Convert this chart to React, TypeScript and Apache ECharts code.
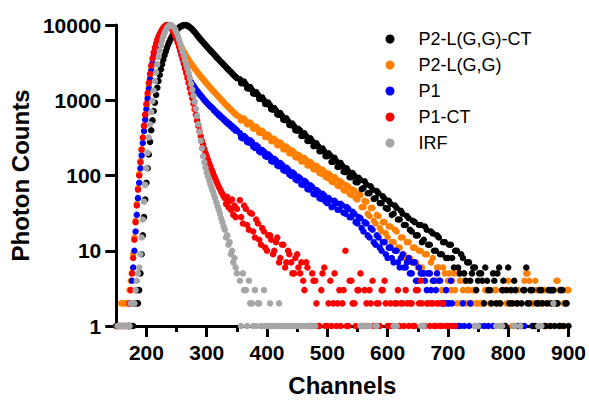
import React, { useEffect, useRef } from "react";
import * as echarts from "echarts";

// Channel grid (x values): fine steps around the peak, coarser in the tail
const CHANNELS = [
  150, 152, 154, 156, 158, 160, 162, 164, 166, 168,
  170, 172, 174, 176, 178, 180, 182, 184, 186, 188,
  190, 192, 194, 196, 198, 200, 202, 204, 206, 208,
  210, 212, 214, 216, 218, 220, 222, 224, 226, 228,
  230, 232, 234, 236, 238, 240, 242, 244, 246, 248,
  250, 252, 254, 256, 258, 260, 262, 264, 266, 268,
  270, 272, 274, 276, 278, 280, 282, 284, 286, 288,
  290, 292, 294, 296, 298, 300, 302, 304, 306, 308,
  310, 312, 314, 316, 318, 320, 322, 324, 326, 328,
  330, 332, 334, 336, 338, 340, 342, 344, 346, 348,
  350,
  355, 360, 365, 370, 375, 380, 385, 390, 395, 400,
  405, 410, 415, 420, 425, 430, 435, 440, 445, 450,
  455, 460, 465, 470, 475, 480, 485, 490, 495, 500,
  505, 510, 515, 520, 525, 530, 535, 540, 545, 550,
  555, 560, 565, 570, 575, 580, 585, 590, 595, 600,
  605, 610, 615, 620, 625, 630, 635, 640, 645, 650,
  655, 660, 665, 670, 675, 680, 685, 690, 695, 700,
  705, 710, 715, 720, 725, 730, 735, 740, 745, 750,
  755, 760, 765, 770, 775, 780, 785, 790, 795, 800,
  805, 810, 815, 820, 825, 830, 835, 840, 845, 850,
  855, 860, 865, 870, 875, 880, 885, 890, 895, 900,
];

// In-between tail channels (read separately, noisy tails)
const CHANNELS_ALT = [
  357, 362, 367, 372, 377, 382, 387, 392, 397, 402,
  407, 412, 417, 422, 427, 432, 437, 442, 447, 452,
  457, 462, 467, 472, 477, 482, 487, 492, 497, 502,
  507, 512, 517, 522, 527, 532, 537, 542, 547, 552,
  557, 562, 567, 572, 577, 582, 587, 592, 597, 602,
  607, 612, 617, 622, 627, 632, 637, 642, 647, 652,
  657, 662, 667, 672, 677, 682, 687, 692, 697, 702,
  707, 712, 717, 722, 727, 732, 737, 742, 747, 752,
  757, 762, 767, 772, 777, 782, 787, 792, 797, 802,
  807, 812, 817, 822, 827, 832, 837, 842, 847, 852,
  857, 862, 867, 872, 877, 882, 887, 892, 897,
];

// Photon counts per channel (0 = no count, not drawn on the log axis)
const P2_LGG_CT = [
  1, 0, 1, 0, 0, 1, 0, 0, 1, 0,
  1, 1, 1, 2, 1, 2, 2, 3, 2, 3,
  5, 9, 16, 28, 48, 80, 125, 190, 280, 400,
  540, 720, 930, 1180, 1470, 1800, 2170, 2580, 3020, 3480,
  3960, 4460, 4970, 5490, 6000, 6500, 6990, 7450, 7880, 8280,
  8640, 8960, 9240, 9480, 9680, 9840, 9950, 10000, 9950, 9800,
  9600, 9350, 9050, 8750, 8400, 8050, 7700, 7350, 7000, 6700,
  6400, 6150, 5900, 5650, 5420, 5200, 4990, 4790, 4600, 4420,
  4250, 4080, 3920, 3770, 3620, 3480, 3350, 3220, 3100, 2980,
  2870, 2760, 2650, 2550, 2460, 2370, 2280, 2200, 2120, 2040,
  1970,
  1900, 1690, 1620, 1430, 1380, 1220, 1180, 1040, 1000, 885,
  855, 750, 730, 640, 620, 545, 530, 465, 450, 395,
  395, 335, 335, 288, 287, 247, 245, 211, 210, 181,
  184, 153, 156, 131, 134, 111, 114, 95, 99, 81,
  87, 68, 76, 58, 65, 50, 58, 43, 49, 36,
  42, 31, 37, 26, 31, 22, 27, 18, 24, 16,
  22, 14, 19, 12, 17, 10, 15, 9, 13, 8,
  12, 6, 10, 5, 8, 4, 7, 5, 6, 4,
  5, 2, 4, 3, 5, 2, 6, 3, 1, 6,
  3, 4, 2, 1, 3, 6, 2, 3, 1, 2,
  3, 1, 2, 1, 3, 2, 1, 3, 2, 1,
];
const P2_LGG_CT_ALT = [
  1690, 1770, 1450, 1500, 1230, 1280, 1045, 1090, 895, 930,
  760, 790, 650, 675, 550, 575, 470, 490, 400, 417,
  335, 364, 287, 312, 246, 267, 211, 229, 181, 197,
  152, 172, 130, 147, 112, 125, 95, 108, 82, 93,
  66, 84, 58, 72, 49, 62, 43, 53, 37, 46,
  30, 40, 26, 34, 22, 29, 19, 25, 16, 22,
  13, 21, 12, 18, 10, 16, 9, 13, 8, 12,
  8, 10, 6, 9, 5, 7, 4, 6, 3, 5,
  4, 6, 3, 2, 4, 5, 2, 4, 3, 2,
  2, 3, 1, 2, 3, 2, 3, 1, 2, 3,
  2, 1, 3, 2, 1, 2, 3, 1, 2,
];

const P2_LGG = [
  1, 1, 1, 1, 2, 1, 2, 2, 2, 2,
  2, 3, 4, 5, 9, 15, 25, 42, 68, 105,
  155, 225, 320, 450, 620, 850, 1150, 1550, 2050, 2650,
  3100, 3800, 4500, 5200, 5950, 6650, 7300, 7900, 8450, 8950,
  9350, 9700, 9900, 10000, 9950, 9750, 9400, 8900, 8300, 7600,
  7000, 6450, 5950, 5500, 5100, 4750, 4450, 4150, 3900, 3650,
  3450, 3250, 3080, 2920, 2780, 2640, 2510, 2390, 2280, 2180,
  2080, 1990, 1900, 1820, 1740, 1670, 1600, 1530, 1470, 1410,
  1350, 1300, 1250, 1200, 1150, 1100, 1060, 1020, 980, 940,
  905, 870, 840, 810, 780, 750, 725, 700, 675, 650,
  630,
  600, 545, 530, 480, 470, 420, 415, 370, 365, 325,
  325, 285, 288, 252, 256, 222, 228, 196, 202, 173,
  180, 154, 160, 136, 142, 120, 127, 106, 112, 93,
  100, 82, 89, 72, 79, 63, 71, 55, 63, 48,
  55, 38, 45, 29, 37, 23, 29, 18, 24, 15,
  21, 13, 18, 11, 15, 8, 13, 7, 11, 6,
  10, 5, 9, 5, 8, 4, 6, 3, 5, 4,
  3, 5, 2, 4, 3, 2, 3, 2, 3, 2,
  2, 1, 3, 2, 1, 3, 2, 3, 1, 4,
  2, 1, 2, 0, 1, 5, 4, 2, 4, 1,
  2, 3, 1, 2, 3, 4, 3, 1, 2, 3,
];
const P2_LGG_ALT = [
  540, 572, 478, 507, 421, 445, 371, 392, 324, 347,
  285, 308, 253, 274, 223, 242, 198, 214, 175, 189,
  154, 170, 136, 151, 121, 134, 108, 119, 96, 106,
  83, 95, 73, 84, 64, 74, 57, 65, 50, 57,
  38, 46, 31, 37, 25, 30, 20, 24, 17, 21,
  13, 19, 11, 15, 9, 13, 8, 11, 7, 10,
  6, 9, 5, 7, 4, 6, 4, 6, 3, 5,
  4, 3, 5, 2, 4, 3, 2, 3, 2, 1,
  2, 3, 1, 2, 3, 2, 1, 3, 2, 3,
  1, 2, 3, 1, 4, 5, 3, 2, 3, 2,
  3, 2, 1, 3, 2, 4, 1, 2, 3,
];

const P1 = [
  0, 1, 0, 0, 1, 0, 0, 0, 1, 0,
  1, 1, 2, 4, 6, 10, 18, 30, 50, 80,
  125, 185, 270, 390, 550, 760, 1050, 1420, 1900, 2450,
  3100, 3800, 4500, 5200, 5900, 6600, 7300, 7900, 8500, 9000,
  9400, 9750, 9950, 10000, 9900, 9700, 9350, 8900, 8300, 7600,
  6900, 6200, 5500, 4850, 4250, 3700, 3250, 2850, 2500, 2250,
  2050, 1880, 1750, 1640, 1550, 1470, 1400, 1330, 1270, 1210,
  1160, 1110, 1060, 1010, 970, 930, 890, 860, 830, 800,
  780, 730, 725, 680, 675, 630, 630, 590, 590, 550,
  550, 510, 515, 480, 485, 450, 455, 420, 428, 395,
  400,
  365, 312, 318, 272, 278, 233, 240, 202, 208, 176,
  181, 153, 158, 133, 139, 115, 121, 99, 105, 86,
  92, 75, 81, 65, 70, 56, 61, 49, 54, 43,
  47, 39, 43, 35, 40, 31, 36, 28, 31, 23,
  27, 18, 23, 15, 19, 12, 15, 10, 13, 8,
  11, 7, 10, 6, 9, 6, 8, 5, 7, 4,
  5, 5, 3, 5, 4, 3, 4, 2, 2, 2,
  4, 1, 0, 1, 2, 0, 1, 0, 1, 0,
  0, 1, 0, 0, 1, 0, 0, 0, 1, 0,
  0, 0, 1, 0, 0, 0, 0, 1, 0, 0,
  0, 0, 0, 3, 0, 0, 1, 0, 0, 0,
];
const P1_ALT = [
  320, 334, 279, 294, 242, 252, 209, 218, 181, 191,
  155, 167, 136, 146, 118, 127, 103, 110, 89, 96,
  76, 85, 66, 74, 57, 64, 50, 57, 45, 50,
  38, 46, 35, 42, 32, 38, 28, 33, 24, 28,
  20, 24, 16, 20, 13, 16, 11, 13, 9, 11,
  8, 10, 7, 8, 6, 7, 5, 7, 4, 6,
  5, 4, 5, 3, 4, 5, 4, 2, 3, 2,
  2, 0, 1, 0, 1, 0, 2, 0, 0, 1,
  0, 0, 1, 0, 0, 0, 0, 1, 0, 0,
  0, 0, 0, 0, 1, 0, 0, 0, 0, 0,
  0, 0, 0, 3, 0, 0, 0, 0, 0,
];

const P1_CT = [
  0, 0, 1, 0, 0, 1, 0, 1, 0, 1,
  1, 2, 3, 5, 8, 14, 24, 40, 65, 100,
  150, 220, 320, 460, 650, 900, 1250, 1700, 2250, 2900,
  3600, 4300, 5000, 5700, 6400, 7000, 7600, 8200, 8700, 9200,
  9550, 9850, 10000, 9950, 9700, 9350, 8900, 8350, 7750, 7100,
  6450, 5800, 5150, 4550, 4000, 3500, 3050, 2650, 2300, 1980,
  1700, 1450, 1240, 1060, 900, 760, 640, 540, 460, 390,
  335, 290, 255, 225, 200, 180, 162, 146, 132, 120,
  110, 100, 92, 84, 77, 71, 66, 61, 57, 53,
  50, 42, 52, 38, 46, 35, 48, 30, 40, 28,
  36,
  47, 23, 36, 19, 31, 15, 23, 12, 18, 10,
  16, 9, 13, 7, 12, 6, 10, 7, 5, 9,
  5, 4, 7, 1, 5, 4, 1, 3, 6, 1,
  4, 2, 1, 3, 2, 10, 1, 4, 2, 3,
  5, 1, 2, 3, 4, 1, 2, 3, 4, 1,
  2, 1, 2, 1, 2, 3, 1, 2, 1, 3,
  4, 1, 2, 1, 2, 1, 2, 1, 0, 1,
  1, 0, 0, 0, 0, 0, 0, 0, 0, 0,
  0, 0, 0, 0, 0, 0, 0, 0, 0, 0,
  0, 0, 0, 0, 0, 0, 0, 0, 0, 0,
  0, 0, 0, 0, 0, 0, 0, 0, 0, 0,
];
const P1_CT_ALT = [
  28, 40, 22, 32, 18, 26, 14, 20, 11, 16,
  14, 10, 15, 8, 12, 7, 9, 5, 8, 6,
  7, 3, 6, 1, 4, 2, 1, 5, 1, 2,
  1, 5, 2, 1, 3, 1, 4, 2, 1, 3,
  1, 3, 1, 2, 1, 2, 1, 3, 2, 1,
  1, 2, 3, 2, 1, 2, 2, 1, 3, 2,
  2, 1, 2, 2, 1, 2, 1, 2, 1, 1,
  0, 1, 0, 0, 0, 0, 0, 0, 0, 0,
  0, 0, 0, 0, 0, 0, 0, 0, 0, 0,
  0, 0, 0, 0, 0, 0, 0, 0, 0, 0,
  0, 0, 0, 0, 0, 0, 0, 0, 0,
];

const IRF = [
  0, 1, 1, 1, 1, 1, 1, 1, 1, 1,
  1, 1, 2, 2, 2, 2, 3, 4, 5, 6,
  9, 15, 26, 45, 75, 125, 200, 320, 480, 700,
  980, 1350, 1800, 2350, 3000, 3750, 4550, 5400, 6250, 7050,
  7800, 8500, 9100, 9600, 9900, 10000, 9850, 9550, 9150, 8600,
  7900, 7200, 6400, 5700, 5000, 4400, 3900, 3400, 3000, 2650,
  2300, 1950, 1650, 1380, 1150, 950, 770, 620, 480, 380,
  290, 230, 180, 150, 128, 110, 97, 86, 77, 69,
  62, 55, 50, 44, 39, 35, 31, 27, 24, 21,
  19, 15, 16, 12, 13, 9, 10, 7, 8, 6,
  5,
  4, 5, 3, 4, 2, 3, 2, 1, 3, 1,
  2, 1, 1, 2, 1, 1, 1, 1, 1, 1,
  1, 1, 0, 1, 1, 1, 0, 0, 0, 0,
  0, 0, 0, 0, 0, 0, 0, 0, 0, 0,
  1, 1, 1, 1, 0, 1, 0, 0, 0, 0,
  0, 1, 1, 0, 0, 0, 0, 0, 0, 0,
  1, 1, 0, 0, 0, 0, 0, 0, 0, 0,
  0, 0, 0, 0, 0, 0, 0, 0, 1, 1,
  0, 0, 0, 0, 0, 1, 0, 1, 0, 0,
  0, 1, 0, 1, 0, 0, 0, 0, 0, 1,
  1, 0, 0, 0, 2, 0, 0, 0, 0, 0,
];
const IRF_ALT = [
  1, 3, 1, 2, 1, 1, 2, 1, 1, 1,
  1, 1, 1, 1, 1, 1, 1, 1, 1, 1,
  1, 1, 1, 1, 1, 0, 0, 0, 0, 0,
  0, 0, 0, 0, 0, 0, 0, 0, 0, 0,
  0, 1, 0, 0, 0, 1, 0, 0, 0, 0,
  0, 0, 0, 0, 0, 0, 0, 0, 0, 0,
  1, 0, 0, 0, 0, 0, 0, 0, 0, 0,
  0, 0, 0, 0, 0, 0, 0, 0, 0, 0,
  0, 0, 0, 0, 0, 0, 1, 0, 0, 0,
  0, 1, 0, 0, 0, 0, 0, 0, 0, 1,
  0, 0, 0, 0, 0, 0, 0, 0, 0,
];

const LEGEND_ORDER = ["P2-L(G,G)-CT", "P2-L(G,G)", "P1", "P1-CT", "IRF"];
const X_MAJOR_TICKS = [200, 300, 400, 500, 600, 700, 800, 900];
const X_MINOR_TICKS = [250, 350, 450, 550, 650, 750, 850];

const FONT = "'Liberation Sans', Arial, Helvetica, sans-serif";

function toPoints(channels: number[], values: number[]) {
  const pts: [number, number][] = [];
  channels.forEach((c, i) => {
    const v = values[i];
    if (v && v > 0) pts.push([c, v]);
  });
  return pts;
}

export default function App() {
  const ref = useRef<HTMLDivElement>(null);

  useEffect(() => {
    if (!ref.current) return;
    const chart = echarts.init(ref.current, undefined, { renderer: "svg" });

    const mk = (name: string, values: number[], alt: number[], color: string) => ({
      name,
      type: "scatter",
      xAxisIndex: 0,
      yAxisIndex: 0,
      data: toPoints(CHANNELS, values).concat(toPoints(CHANNELS_ALT, alt)),
      symbol: "circle",
      symbolSize: 6.5,
      itemStyle: { color, opacity: 1 },
      clip: false,
      emphasis: { disabled: true },
    });

    chart.setOption({
      animation: false,
      backgroundColor: "#ffffff",
      grid: { left: 116, right: 19.5, top: 25, bottom: 77 },
      legend: {
        data: LEGEND_ORDER.map((n) => ({ name: n, icon: "circle" })),
        orient: "vertical",
        left: 380.5,
        top: 25,
        itemWidth: 9,
        itemHeight: 9,
        itemGap: 8,
        textStyle: {
          fontFamily: FONT,
          fontSize: 18,
          color: "#000",
          padding: [0, 0, 0, 19],
        },
        selectedMode: false,
      },
      xAxis: [
        {
          type: "value",
          min: 150,
          max: 900,
          position: "bottom",
          axisLine: { show: true, onZero: false, lineStyle: { color: "#000", width: 3 } },
          axisTick: {
            show: true,
            length: 11,
            customValues: X_MAJOR_TICKS,
            lineStyle: { color: "#000", width: 3 },
          },
          axisLabel: {
            show: true,
            customValues: X_MAJOR_TICKS,
            fontFamily: FONT,
            fontSize: 21,
            fontWeight: "bold",
            color: "#000",
            margin: 16,
          },
          splitLine: { show: false },
          name: "Channels",
          nameLocation: "middle",
          nameGap: 47,
          nameTextStyle: { fontFamily: FONT, fontSize: 24, fontWeight: "bold", color: "#000" },
        },
        {
          type: "value",
          min: 150,
          max: 900,
          position: "bottom",
          axisLine: { show: false, onZero: false },
          axisTick: {
            show: true,
            length: 6,
            customValues: X_MINOR_TICKS,
            lineStyle: { color: "#000", width: 3 },
          },
          axisLabel: { show: false },
          splitLine: { show: false },
        },
      ],
      yAxis: {
        type: "log",
        logBase: 10,
        min: 1,
        max: 10000,
        axisLine: { show: true, onZero: false, lineStyle: { color: "#000", width: 3 } },
        axisTick: { show: true, length: 11, lineStyle: { color: "#000", width: 3 } },
        axisLabel: {
          fontFamily: FONT,
          fontSize: 21,
          fontWeight: "bold",
          color: "#000",
          margin: 15,
          formatter: (v: number) => String(Math.round(v)),
        },
        splitLine: { show: false },
        name: "Photon Counts",
        nameLocation: "middle",
        nameGap: 70,
        nameRotate: 90,
        nameTextStyle: { fontFamily: FONT, fontSize: 24, fontWeight: "bold", color: "#000" },
      },
      series: [
        mk("P2-L(G,G)", P2_LGG, P2_LGG_ALT, "#FF8000"),
        mk("P1", P1, P1_ALT, "#0000FF"),
        mk("P2-L(G,G)-CT", P2_LGG_CT, P2_LGG_CT_ALT, "#000000"),
        mk("P1-CT", P1_CT, P1_CT_ALT, "#FF0000"),
        mk("IRF", IRF, IRF_ALT, "#A6A6A6"),
      ],
    });

    return () => chart.dispose();
  }, []);

  return (
    <div
      ref={ref}
      style={{ position: "absolute", left: 0, top: 0, width: 589, height: 403, background: "#fff" }}
    />
  );
}
